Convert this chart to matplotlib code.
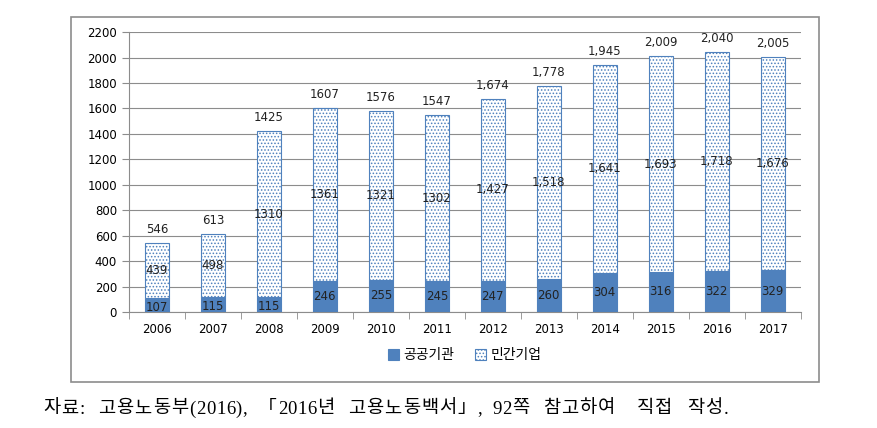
import numpy as np
import matplotlib.pyplot as plt
from matplotlib.patches import Rectangle

years = ['2006', '2007', '2008', '2009', '2010', '2011', '2012', '2013', '2014', '2015', '2016', '2017']
public = [107, 115, 115, 246, 255, 245, 247, 260, 304, 316, 322, 329]
private = [439, 498, 1310, 1361, 1321, 1302, 1427, 1518, 1641, 1693, 1718, 1676]
total = [546, 613, 1425, 1607, 1576, 1547, 1674, 1778, 1945, 2009, 2040, 2005]
use_comma = [False] * 6 + [True] * 6

# caption words and their left edges (pixels)
caption_words = ['자료:', '고용노동부(2016),', '「2016년', '고용노동백서」,', '92쪽', '참고하여', '직접', '작성.']
caption_x = [43, 98, 258, 348, 492, 543, 637, 687]

plt.rcParams['font.family'] = ['DejaVu Sans']
plt.rcParams['hatch.linewidth'] = 0.7
blue = '#4f81bd'

W, H = 877, 428
fig = plt.figure(figsize=(W / 100, H / 100), dpi=100)
fig.patches.append(Rectangle((0.081, 0.1075), 0.853, 0.853, transform=fig.transFigure,
                             fill=False, edgecolor='#8c8c8c', linewidth=1.2))
ax = fig.add_axes([0.147, 0.271, 0.766, 0.654])

x = np.arange(len(years))
w = 0.43
b1 = ax.bar(x, public, w, color=blue, edgecolor=blue, linewidth=0.8, label='공공기관', zorder=3)
b2 = ax.bar(x, private, w, bottom=public, color='white', edgecolor=blue, hatch='.....',
            linewidth=0.8, label='민간기업', zorder=3)

def fmt(v, c):
    return f'{v:,}' if c else str(v)

for i in range(len(years)):
    ax.text(x[i], public[i] / 2 - 15 if public[i] < 200 else public[i] / 2, str(public[i]),
            ha='center', va='center', fontsize=8.5, color='#222222', zorder=4)
    ax.text(x[i], public[i] + private[i] / 2, fmt(private[i], use_comma[i]),
            ha='center', va='center', fontsize=8.5, color='#222222', zorder=4)
    ax.text(x[i], total[i] + 55, fmt(total[i], use_comma[i]),
            ha='center', va='bottom', fontsize=8.5, color='#222222', zorder=4)

ax.set_ylim(0, 2200)
ax.set_yticks(range(0, 2201, 200))
ax.set_xlim(-0.5, len(years) - 0.5)
ax.set_xticks(x)
ax.set_xticklabels(years)
ax.set_xticks(np.arange(-0.5, len(years), 1), minor=True)
ax.tick_params(axis='x', which='major', length=0, labelsize=8.5, pad=8)
ax.tick_params(axis='x', which='minor', length=5, color='#8c8c8c')
ax.tick_params(axis='y', length=5, color='#8c8c8c', labelsize=8.5)
ax.grid(axis='y', color='#8c8c8c', linewidth=0.8, zorder=0)
for s in ['top', 'right']:
    ax.spines[s].set_visible(False)
for s in ['left', 'bottom']:
    ax.spines[s].set_color('#8c8c8c')

fig.legend(handles=[b1, b2], loc='center', bbox_to_anchor=(0.53, 0.17), ncol=2, frameon=False,
           prop={'family': 'Noto Sans CJK KR', 'size': 10}, handlelength=0.8, handleheight=0.8,
           handletextpad=0.3, columnspacing=1.5)

# caption: letter-spaced, one char at a time
renderer = fig.canvas.get_renderer()
for word, px in zip(caption_words, caption_x):
    cx = px
    for ch in word:
        t = fig.text(cx / W, 1 - 409 / H, ch, fontsize=13.5, ha='left', va='center',
                     family=['Liberation Serif', 'Noto Sans CJK KR'])
        cw = t.get_window_extent(renderer).width
        cx += cw + (1.0 if ord(ch) > 0x3000 else 0.6)

fig.savefig('out.png', dpi=100)
